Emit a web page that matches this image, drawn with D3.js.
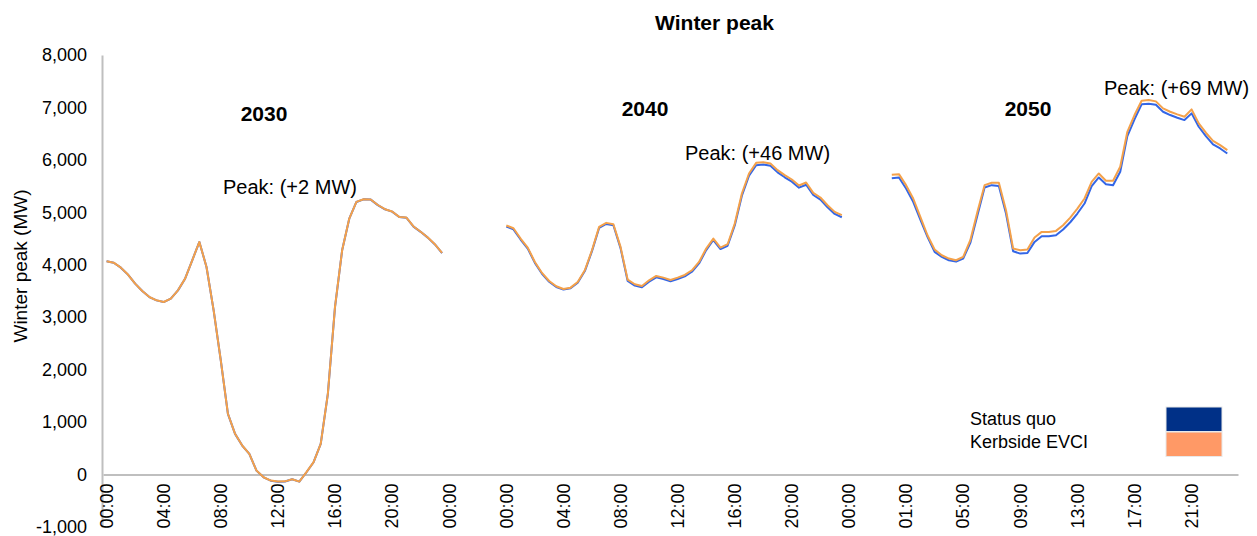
<!DOCTYPE html>
<html>
<head>
<meta charset="utf-8">
<script src="https://cdn.jsdelivr.net/npm/d3@7"></script>
<style>
  body { margin: 0; background: #ffffff; }
  svg { display: block; }
  text { font-family: "Liberation Sans", Arial, Helvetica, sans-serif; fill: #000; }
</style>
</head>
<body>
<svg id="chart" width="1257" height="536"></svg>
<script>
// Half-hourly winter peak demand (MW), three study years laid side by side
// on one category axis with blank slots between the days.
const slotCount = 159;
const yearStartSlot = [0, 56, 110];
const years = ["2030", "2040", "2050"];

// labels shown on every 8th slot of the category axis
const tickLabels = [
  "00:00", "04:00", "08:00", "12:00", "16:00", "20:00", "00:00",
  "00:00", "04:00", "08:00", "12:00", "16:00", "20:00", "00:00",
  "01:00", "05:00", "09:00", "13:00", "17:00", "21:00"
];

const statusQuo2030 = [4066,4039,3945,3812,3640,3499,3385,3321,3289,3353,3512,3735,4085,4435,3957,3130,
  2176,1158,776,553,394,75,-52,-116,-135,-131,-90,-135,44,235,584,1539,
  3194,4276,4879,5198,5248,5243,5138,5058,5013,4911,4898,4728,4628,4518,4388,4223];
const kerbside2030 = [4067,4040,3946,3813,3641,3500,3386,3322,3290,3354,3513,3736,4086,4436,3958,3131,
  2177,1159,777,554,395,76,-51,-115,-134,-130,-89,-134,45,236,585,1540,
  3195,4277,4881,5200,5250,5245,5140,5060,5015,4913,4900,4730,4630,4520,4390,4225];

const statusQuo2040 = [4728,4676,4481,4310,4037,3828,3676,3576,3527,3551,3658,3880,4260,4702,4778,4753,
  4318,3692,3602,3570,3678,3761,3729,3684,3728,3779,3867,4025,4280,4472,4300,4362,
  4750,5318,5700,5900,5911,5888,5762,5668,5585,5470,5526,5330,5243,5096,4970,4906];
const kerbside2040 = [4748,4697,4500,4328,4054,3844,3691,3590,3539,3564,3672,3895,4277,4722,4799,4774,
  4341,3717,3628,3596,3704,3787,3755,3711,3755,3806,3895,4054,4309,4500,4328,4392,
  4786,5359,5741,5944,5957,5932,5805,5709,5626,5512,5569,5371,5283,5136,5009,4945];

const statusQuo2050 = [5652,5665,5455,5200,4862,4532,4246,4150,4086,4060,4118,4417,4945,5474,5518,5500,
  4977,4258,4213,4226,4436,4544,4544,4563,4672,4811,4977,5168,5500,5665,5537,5518,
  5773,6453,6772,7060,7072,7052,6918,6855,6804,6759,6887,6632,6453,6294,6218,6122];
const kerbside2050 = [5715,5728,5518,5264,4913,4563,4290,4182,4118,4086,4150,4468,5009,5518,5563,5563,
  5041,4309,4277,4290,4519,4627,4627,4646,4754,4900,5072,5264,5582,5741,5601,5601,
  5868,6536,6855,7128,7141,7116,6982,6918,6868,6823,6963,6696,6518,6364,6282,6186];

const peakNotes = ["Peak: (+2 MW)", "Peak: (+46 MW)", "Peak: (+69 MW)"];
const seriesNames = ["Status quo", "Kerbside EVCI"];

const lineColors = ["#3366e6", "#f4a14a"];
const legendColors = ["#003087", "#ff9966"];

const statusQuo = [statusQuo2030, statusQuo2040, statusQuo2050];
const kerbside = [kerbside2030, kerbside2040, kerbside2050];

const svg = d3.select("#chart");

const x = d3.scaleBand().domain(d3.range(slotCount)).range([103, 1238]);
const y = d3.scaleLinear().domain([-1000, 8000]).range([527, 55]);
const cx = i => x(i) + x.bandwidth() / 2;

const fmt = d3.formatLocale({ decimal: ".", thousands: ",", grouping: [3], currency: ["", ""], minus: "-" }).format(",");

// y axis
const yAxis = svg.append("g")
  .attr("transform", `translate(${x.range()[0] - 1},0)`)
  .call(d3.axisLeft(y).tickValues(d3.range(-1000, 8001, 1000)).tickFormat(fmt).tickSize(0).tickPadding(15));
yAxis.selectAll("text").style("font-size", "18px");
yAxis.select(".domain").attr("stroke", "#bfbfbf").attr("stroke-width", 2);

// category axis sits on the zero line
const xAxis = svg.append("g")
  .attr("transform", `translate(0,${y(0)})`)
  .call(d3.axisBottom(x)
    .tickValues(d3.range(0, slotCount, 8))
    .tickFormat((d, i) => tickLabels[i])
    .tickSize(0));
xAxis.select(".domain").attr("stroke", "#bfbfbf").attr("stroke-width", 2);
xAxis.selectAll("text")
  .style("font-size", "18px")
  .attr("text-anchor", "end")
  .attr("transform", "rotate(-90)")
  .attr("x", -9)
  .attr("y", 0)
  .attr("dy", "0.35em");

// lines: status quo underneath, kerbside on top
const line = d3.line().x(d => cx(d.slot)).y(d => y(d.v));
[statusQuo, kerbside].forEach((series, s) => {
  series.forEach((vals, k) => {
    const pts = vals.map((v, j) => ({ slot: yearStartSlot[k] + j, v }));
    svg.append("path")
      .datum(pts)
      .attr("d", line)
      .attr("fill", "none")
      .attr("stroke", lineColors[s])
      .attr("stroke-width", 2)
      .attr("stroke-linejoin", "round");
  });
});

// title
svg.append("text").attr("x", 714.5).attr("y", 30).attr("text-anchor", "middle")
  .style("font-size", "21px").style("font-weight", "bold").text("Winter peak");

// y axis title
svg.append("text").attr("transform", "translate(27,266) rotate(-90)").attr("text-anchor", "middle")
  .style("font-size", "19px").text("Winter peak (MW)");

// year headings
const yearPos = [[264, 121], [645, 116], [1028, 116]];
years.forEach((t, k) => {
  svg.append("text").attr("x", yearPos[k][0]).attr("y", yearPos[k][1]).attr("text-anchor", "middle")
    .style("font-size", "21px").style("font-weight", "bold").text(t);
});

// peak annotations
const notePos = [[223, 194], [685, 160], [1104, 95]];
peakNotes.forEach((t, k) => {
  svg.append("text").attr("x", notePos[k][0]).attr("y", notePos[k][1])
    .style("font-size", "20px").text(t);
});

// legend
const legend = svg.append("g");
seriesNames.forEach((name, i) => {
  legend.append("text").attr("x", 970).attr("y", 424.5 + i * 23.3)
    .style("font-size", "18px").text(name);
  legend.append("rect").attr("x", 1166).attr("y", 407 + i * 25)
    .attr("width", 56).attr("height", 24.5)
    .attr("fill", legendColors[i]).attr("stroke", "#e8e8e8").attr("stroke-width", 1);
});
</script>
</body>
</html>
